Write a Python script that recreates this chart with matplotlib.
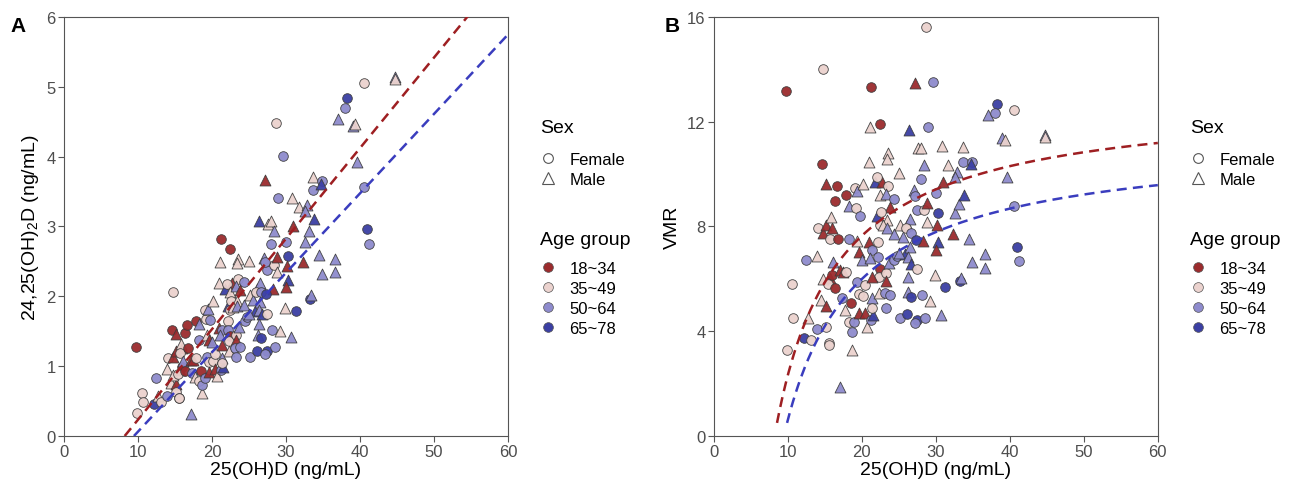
import matplotlib
matplotlib.use("Agg")
import matplotlib.pyplot as plt
from matplotlib.lines import Line2D
import numpy as np

plt.rcParams['font.family'] = ['Liberation Sans', 'DejaVu Sans']
plt.rcParams['mathtext.default'] = 'regular'

# 25(OH)D (ng/mL) and VMR, one entry per subject
vit_d = [9.7, 9.9, 10.6, 10.7, 12.2, 12.4, 12.7, 13.1, 13.95, 13.95,
         14.1, 14.7, 14.6, 15.1, 14.5, 15.1, 14.7, 15.2, 15.5, 15.6,
         14.7, 15.2, 15.9, 15.8, 15.7, 15.7, 16.0, 15.4, 16.1, 16.4,
         16.6, 16.8, 16.4, 17.1, 17.4, 17.3, 17.7, 17.1, 17.9, 18.3,
         18.2, 17.9, 18.5, 18.2, 18.6, 18.6, 19.0, 19.2, 19.1, 19.4,
         19.7, 19.35, 19.3, 19.6, 20.1, 20.4, 19.6, 20.0, 19.6, 20.4,
         20.7, 21.2, 21.5, 20.1, 20.9, 21.1, 21.2, 21.8, 22.7, 22.5,
         22.05, 23.5, 22.4, 23.3, 24.3, 23.85, 22.1, 22.6, 22.4, 23.45,
         22.9, 23.4, 24.3, 20.9, 21.4, 22.2, 22.2, 21.15, 22.4, 22.3,
         21.4, 23.3, 23.3, 23.6, 24.4, 21.4, 22.3, 23.1, 23.8, 23.2,
         21.4, 25.0, 25.1, 25.6, 24.7, 25.8, 25.0, 26.1, 26.5, 26.0,
         26.6, 26.5, 26.3, 26.7, 26.3, 26.2, 26.6, 25.2, 26.1, 27.4,
         27.2, 28.5, 28.1, 27.4, 28.2, 27.3, 27.5, 28.4, 27.1, 27.2,
         27.95, 26.4, 27.2, 28.7, 29.65, 28.9, 27.6, 28.0, 28.4, 28.8,
         28.8, 29.2, 29.97, 30.3, 30.2, 30.3, 29.97, 29.9, 30.7, 31.3,
         30.8, 31.0, 31.7, 32.8, 32.6, 32.3, 32.6, 33.1, 33.75, 33.7,
         33.7, 34.9, 34.7, 34.5, 33.2, 33.4, 34.9, 36.6, 36.6, 37.0,
         38.2, 38.0, 39.0, 39.4, 39.6, 40.6, 40.5, 40.9, 41.2, 44.7,
         44.8, 23.5, 23.45]
vmr = [13.18, 3.28, 5.8, 4.5, 3.75, 6.72, 4.5, 3.66, 6.88, 4.1,
       7.95, 14.0, 10.37, 9.64, 5.19, 4.97, 5.98, 4.17, 3.54, 3.47,
       7.74, 8.05, 7.93, 8.35, 7.54, 6.02, 6.15, 5.79, 6.63, 8.98,
       9.54, 7.52, 5.64, 6.34, 6.27, 5.25, 4.81, 1.88, 9.21, 8.79,
       7.54, 6.27, 5.06, 4.36, 3.28, 3.96, 4.34, 8.69, 9.48, 9.36,
       8.41, 7.46, 5.89, 5.41, 5.34, 5.76, 7.04, 6.72, 4.68, 4.68,
       4.17, 4.43, 4.62, 9.64, 10.47, 11.78, 13.32, 9.68, 9.68, 11.9,
       9.89, 9.54, 9.2, 9.24, 9.05, 8.75, 8.41, 8.54, 8.05, 8.24,
       8.05, 7.93, 7.71, 7.42, 7.1, 7.42, 6.84, 6.81, 6.37, 6.08,
       6.08, 6.23, 5.92, 6.59, 6.72, 5.25, 5.45, 5.45, 5.38, 4.9,
       4.87, 10.05, 8.05, 7.58, 6.87, 6.93, 7.0, 8.05, 8.27, 7.93,
       7.74, 7.23, 6.84, 6.56, 6.08, 5.51, 5.29, 4.49, 4.66, 4.43,
       4.33, 4.49, 5.38, 6.36, 7.46, 7.47, 8.63, 8.63, 9.41, 9.17,
       9.81, 11.68, 13.49, 15.6, 13.5, 11.78, 10.98, 10.98, 10.34, 8.88,
       8.16, 5.15, 9.26, 8.52, 8.05, 7.39, 7.1, 6.15, 4.62, 5.7,
       11.07, 9.71, 10.34, 10.09, 9.9, 7.71, 8.5, 8.85, 9.2, 11.02,
       10.45, 10.45, 10.38, 7.52, 5.92, 6.04, 6.65, 6.93, 6.42, 12.25,
       12.66, 12.34, 11.39, 11.32, 9.89, 12.44, 8.79, 7.23, 6.68, 11.51,
       11.42, 10.79, 10.57]
sex = list("FFFFFFMFMF" "FFFMMMMFFF" "MMMMFMFFMF" "FFFMMFMMFM"
           "FFFFMFFFFM" "FMFFFFMMMM" "MFMMMMFMMF" "FFMMFMMFFM"
           "MMMMFFFMFF" "MFMMFMMFFF" "FMMMFMMMMF" "FMMMMMFFFF"
           "FFFFMFFFMF" "FMMFFFMMMM" "MMFFMMMMMF" "MMMMMMMMMM"
           "FFMMFMMMMM" "FFMMMFFFFM" "MMM")
age = [1, 2, 2, 2, 4, 3, 2, 2, 2, 3,
       2, 2, 1, 1, 2, 1, 2, 2, 2, 2,
       1, 1, 1, 2, 2, 1, 1, 2, 3, 1,
       1, 1, 1, 1, 1, 3, 2, 3, 1, 3,
       3, 2, 1, 2, 2, 3, 3, 2, 2, 3,
       3, 2, 3, 2, 2, 2, 1, 3, 1, 1,
       2, 3, 4, 2, 2, 2, 1, 4, 1, 1,
       2, 2, 2, 3, 3, 1, 4, 2, 2, 2,
       2, 3, 3, 1, 3, 2, 3, 3, 1, 2,
       1, 2, 1, 3, 3, 3, 2, 3, 3, 3,
       2, 2, 2, 3, 3, 4, 3, 2, 3, 2,
       3, 3, 3, 4, 3, 3, 4, 3, 4, 4,
       3, 3, 3, 2, 1, 4, 3, 2, 3, 3,
       3, 4, 1, 2, 3, 3, 2, 2, 3, 1,
       2, 2, 3, 4, 1, 4, 1, 2, 3, 4,
       2, 1, 2, 3, 3, 1, 3, 3, 4, 2,
       3, 3, 4, 3, 4, 3, 3, 3, 3, 3,
       4, 3, 3, 2, 3, 2, 3, 4, 3, 3,
       2, 2, 2]

# VMR = 24,25(OH)2D / 25(OH)D x 100
d2425 = [v * x / 100 for v, x in zip(vmr, vit_d)]

age_labels = ['18~34', '35~49', '50~64', '65~78']
age_colors = ['#9B2B2D', '#EBD2CE', '#8E8BCD', '#3B3FA3']
sex_labels = ['Female', 'Male']
sex_markers = {'F': 'o', 'M': '^'}

# dashed fit lines (24,25(OH)2D = slope * 25(OH)D + intercept)
fit_slope = [0.1296, 0.1137]
fit_intercept = [-1.063, -1.075]
fit_colors = ['#9E1F22', '#3A3DBE']

fig = plt.figure(figsize=(12.98, 4.85), dpi=100)
axA = fig.add_axes([0.0493, 0.099, 0.342, 0.864])
axB = fig.add_axes([0.550, 0.099, 0.342, 0.864])


def draw_points(ax, yvals):
    for xv, yv, s, a in zip(vit_d, yvals, sex, age):
        ax.scatter(xv, yv, marker=sex_markers[s], s=48 if s == 'F' else 62,
                   color=age_colors[a - 1], edgecolors='#3c3c3c',
                   linewidths=0.6, alpha=0.95, zorder=3)


draw_points(axA, d2425)
draw_points(axB, vmr)

for k in range(2):
    x0 = -fit_intercept[k] / fit_slope[k]
    xs = np.linspace(x0, 60, 300)
    axA.plot(xs, fit_slope[k] * xs + fit_intercept[k], color=fit_colors[k],
             ls=(0, (4, 2.5)), lw=1.8, zorder=4)
    xb0 = -fit_intercept[k] / (fit_slope[k] - 0.005)
    xs = np.linspace(xb0, 60, 400)
    axB.plot(xs, 100 * (fit_slope[k] + fit_intercept[k] / xs), color=fit_colors[k],
             ls=(0, (4, 2.5)), lw=1.8, zorder=4)

axA.set_xlim(0, 60)
axA.set_ylim(0, 6)
axA.set_xticks(range(0, 61, 10))
axA.set_yticks(range(0, 7))
axA.set_ylabel('24,25(OH)$_2$D (ng/mL)', fontsize=14, labelpad=4)

axB.set_xlim(0, 60)
axB.set_ylim(0, 16)
axB.set_xticks(range(0, 61, 10))
axB.set_yticks([0, 4, 8, 12, 16])
axB.set_ylabel('VMR', fontsize=14, labelpad=4)

for ax in (axA, axB):
    ax.set_xlabel('25(OH)D (ng/mL)', fontsize=14, labelpad=1)
    ax.tick_params(direction='out', length=4, width=0.8, color='#555555',
                   labelcolor='#4d4d4d', labelsize=12, pad=2)
    for sp in ax.spines.values():
        sp.set_color('#555555')
        sp.set_linewidth(0.8)

    # legend titles as plain text so the gap under them matches the original
    ax.text(1.072, 0.737, 'Sex', transform=ax.transAxes, fontsize=14,
            va='center', ha='left')
    ax.text(1.072, 0.468, 'Age group', transform=ax.transAxes, fontsize=14,
            va='center', ha='left')

    sex_handles = [Line2D([], [], ls='none', marker=m, markersize=7 if m == 'o' else 8,
                          markerfacecolor='none', markeredgecolor='#555555',
                          markeredgewidth=0.8)
                   for m in ['o', '^']]
    leg1 = ax.legend(sex_handles, sex_labels, loc='upper left',
                     bbox_to_anchor=(1.0714, 0.678), frameon=False, fontsize=12,
                     labelspacing=0.3, handletextpad=0.8, handlelength=1.0,
                     borderpad=0, borderaxespad=0)
    ax.add_artist(leg1)
    age_handles = [Line2D([], [], ls='none', marker='o', markersize=7,
                          markerfacecolor=c, markeredgecolor='#555555',
                          markeredgewidth=0.5)
                   for c in age_colors]
    ax.legend(age_handles, age_labels, loc='upper left',
              bbox_to_anchor=(1.0714, 0.417), frameon=False, fontsize=12,
              labelspacing=0.3, handletextpad=0.8, handlelength=1.0,
              borderpad=0, borderaxespad=0)

fig.text(0.008, 0.935, 'A', fontsize=15, fontweight='bold')
fig.text(0.512, 0.935, 'B', fontsize=15, fontweight='bold')

fig.savefig('out.png', dpi=100)
